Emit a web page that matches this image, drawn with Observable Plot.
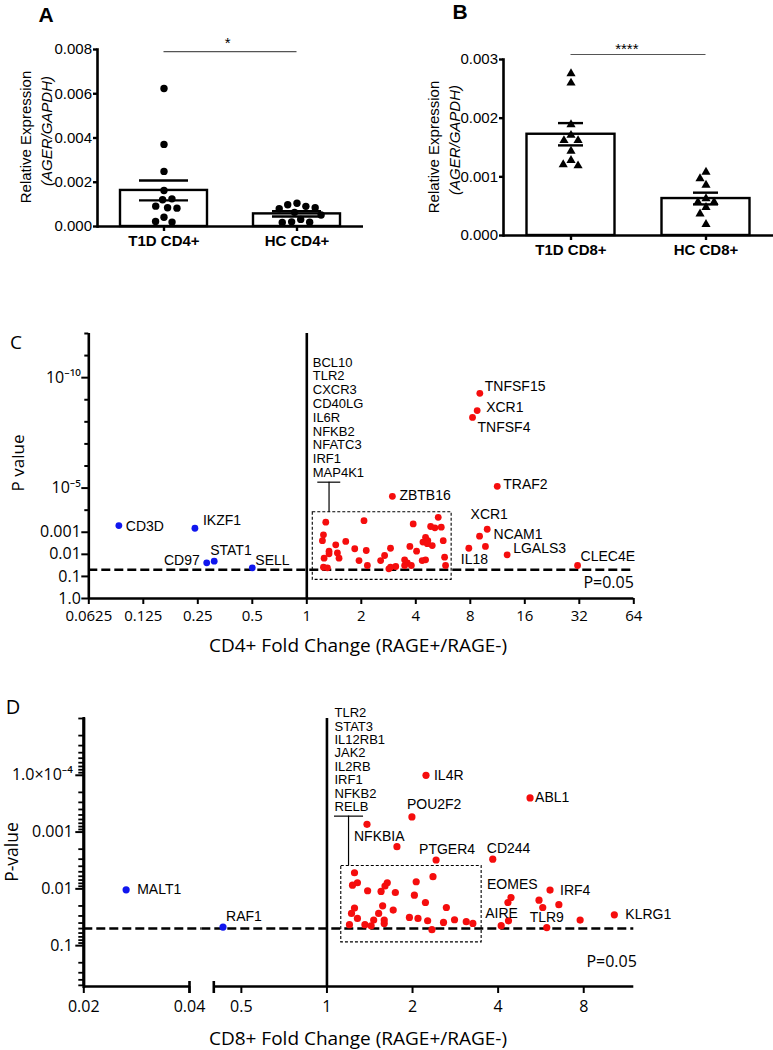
<!DOCTYPE html>
<html>
<head>
<meta charset="utf-8">
<script src="https://cdn.jsdelivr.net/npm/d3@7"></script>
<script src="https://cdn.jsdelivr.net/npm/@observablehq/plot@0.6"></script>
<style>
  html, body { margin: 0; padding: 0; background: #fff; }
  #fig { position: relative; width: 773px; height: 1050px; overflow: hidden; background: #fff; }
  #fig > svg { position: absolute; overflow: visible; max-width: none; }
  .lbl { position: absolute; white-space: nowrap; line-height: 1; color: #000; pointer-events: none; }
</style>
</head>
<body>
<div id="fig"></div>
<script>
// ================= DATA =================
// ---- Panel A : AGER/GAPDH in CD4+ ----
const groupsA = ["T1D CD4+", "HC CD4+"];
const meanA = [0.00163, 0.00057];
const semA = [0.00045, 0.00012];
const valuesT1dCD4 = [0.00624, 0.00371, 0.00249, 0.00163, 0.00121, 0.00125, 0.00092, 0.00085, 0.00083, 0.00042, 0.00023, 0.00020];
const valuesHcCD4 = [0.00105, 0.00098, 0.00091, 0.00085, 0.00080, 0.00064, 0.00052, 0.00032, 0.00021, 0.00019, 0.00018];
const yTicksA = [0, 0.002, 0.004, 0.006, 0.008];
const signifA = {text: "*", y: 0.0079};

// ---- Panel B : AGER/GAPDH in CD8+ ----
const groupsB = ["T1D CD8+", "HC CD8+"];
const meanB = [0.001726, 0.00063];
const semB = [0.00019, 0.0001];
const valuesT1dCD8 = [0.00276, 0.00260, 0.00189, 0.00171, 0.00162, 0.00162, 0.00144, 0.00128, 0.00121, 0.00119];
const valuesHcCD8 = [0.00108, 0.00097, 0.00086, 0.00063, 0.00057, 0.00057, 0.00048, 0.00037, 0.00019];
const yTicksB = [0, 0.001, 0.002, 0.003];
const signifB = {text: "****", y: 0.003085};

// ---- Panel C : CD4+ volcano ----
const xTicksC = [0.0625, 0.125, 0.25, 0.5, 1, 2, 4, 8, 16, 32, 64];
const yTicksC = [1e-10, 1e-5, 1e-3, 1e-2, 1e-1, 1];
const yTickTextC = ["10\u207B\u00B9\u2070", "10\u207B\u2075", "0.001", "0.01", "0.1", "1.0"];
const yMinorC = [1e-12, 1e-11, 1e-9, 1e-8, 1e-7, 1e-6, 1e-4];
const blueGenesC = ["CD3D", "IKZF1", "CD97", "STAT1", "SELL"];
const blueFoldC = [0.0916, 0.241, 0.28, 0.308, 0.5];
const bluePC = [4.97e-4, 6.6e-4, 0.0243, 0.0205, 0.0408];
const redGenesC = ["TNFSF15", "XCR1", "TNFSF4", "TRAF2", "ZBTB16", "XCR1", "NCAM1", "IL18", "LGALS3", "CLEC4E"];
const redFoldC = [9.03, 8.73, 8.23, 11.27, 2.97, 9.92, 9.0, 7.85, 12.78, 31.3];
const redPC = [5.1e-10, 3.1e-9, 6.3e-9, 8.3e-6, 2.35e-5, 7.3e-4, 1.5e-3, 5.3e-3, 0.0105, 0.0321];
const otherFoldC = [1.273, 1.236, 1.22, 1.445, 1.641, 2.07, 1.84, 2.13, 1.327, 1.327, 1.476, 1.507, 1.246, 1.943, 2.161, 1.236, 1.30, 2.558, 2.69, 2.84, 2.90, 3.87, 5.32, 4.83, 5.10, 5.53, 5.67, 4.53, 4.66, 4.38, 4.93, 4.63, 3.71, 4.04, 4.53, 4.34, 5.77, 3.47, 3.59, 3.47, 3.78, 3.10, 5.84, 2.90, 9.7];
const otherPC = [3.5e-4, 1.31e-3, 2.4e-3, 3.7e-3, 2.6e-3, 3.0e-4, 5.6e-3, 6.7e-3, 7.2e-3, 9.5e-3, 8.6e-3, 0.015, 0.015, 0.0191, 0.0321, 0.0384, 0.0408, 0.0191, 0.0113, 0.0453, 5.3e-3, 4.2e-4, 2.1e-4, 5.5e-4, 6.3e-4, 5.9e-4, 2.4e-3, 1.7e-3, 2.4e-3, 2.8e-3, 4.0e-3, 3.3e-3, 4.4e-3, 7.2e-3, 0.0177, 0.0191, 0.0135, 0.0177, 0.0243, 0.0321, 0.0321, 0.0356, 0.0321, 0.0384, 4.4e-3];
const boxGenesC = ["BCL10", "TLR2", "CXCR3", "CD40LG", "IL6R", "NFKB2", "NFATC3", "IRF1", "MAP4K1"];
const boxC = [{x1: 1.079, x2: 6.31, y1: 1.24e-4, y2: 0.143}];
const calloutC = [{x1: 1.15, x2: 1.54, x: 1.327, y: 5.4e-6, yBox: 1.24e-4, xText: 1.079, yText: 3.2e-6}];

// ---- Panel D : CD8+ volcano ----
const xTicksDLeft = [0.02, 0.04];
const xTicksDRight = [0.5, 1, 2, 4, 8];
const yTicksD = [1e-4, 1e-3, 1e-2, 1e-1];
const yTickTextD = ["1.0\u00D710\u207B\u2074", "0.001", "0.01", "0.1"];
const blueGenesDLeft = ["MALT1"];
const blueFoldDLeft = [0.0264];
const bluePDLeft = [0.0104];
const blueGenesD = ["RAF1"];
const blueFoldD = [0.431];
const bluePD = [0.047];
const redGenesD = ["IL4R", "ABL1", "POU2F2", "NFKBIA", "PTGER4", "CD244", "EOMES", "IRF4", "AIRE", "TLR9", "KLRG1"];
const redFoldD = [2.23, 5.18, 1.99, 1.383, 2.42, 3.83, 4.44, 6.09, 4.10, 5.93, 10.25];
const redPD = [1.0e-4, 2.5e-4, 5.4e-4, 7.3e-4, 3.1e-3, 3.0e-3, 0.0142, 0.0105, 0.0445, 0.048, 0.0286];
const otherFoldD = [1.25, 1.28, 1.23, 1.39, 1.63, 1.60, 1.55, 1.74, 2.06, 2.03, 2.36, 2.22, 2.63, 1.57, 1.71, 1.25, 1.22, 1.28, 1.20, 1.36, 1.43, 1.46, 1.52, 1.59, 1.59, 1.95, 2.09, 2.26, 2.34, 2.57, 2.81, 3.09, 3.26, 1.763, 5.57, 5.74, 6.54, 4.35, 4.33, 7.77];
const otherPD = [0.0052, 0.0078, 0.0086, 0.0108, 0.0078, 0.0089, 0.0111, 0.0116, 0.0075, 0.0129, 0.0061, 0.0174, 0.0213, 0.0199, 0.0236, 0.0218, 0.0271, 0.0332, 0.0428, 0.0428, 0.0446, 0.0354, 0.0271, 0.0354, 0.0406, 0.0319, 0.0332, 0.0364, 0.0524, 0.0390, 0.0350, 0.0379, 0.0406, 1.81e-3, 0.0158, 0.0213, 0.019, 0.0365, 0.0174, 0.0354];
const boxGenesD = ["TLR2", "STAT3", "IL12RB1", "JAK2", "IL2RB", "IRF1", "NFKB2", "RELB"];
const boxD = [{x1: 1.123, x2: 3.50, y1: 3.95e-3, y2: 0.0876}];
const calloutD = [{x1: 1.063, x2: 1.345, x: 1.191, y: 5.24e-4, yBox: 3.95e-3, xText: 1.063, yText: 4.28e-4}];

const threshold = 0.05;

// ================= RENDER =================
const ARIAL = "'Liberation Sans', Arial, Helvetica, sans-serif";
const MYRIAD = "'Open Sans', 'Noto Sans', sans-serif";
const RED = "#f50d0d";
const BLUE = "#1016ee";
const fig = document.getElementById("fig");

function mount(svg, left, top) {
  svg.style.left = left + "px";
  svg.style.top = top + "px";
  fig.appendChild(svg);
}
function label(text, x, y, {size = 15, family = ARIAL, weight = "normal", italic = false, anchor = "middle", rotate = 0} = {}) {
  const d = document.createElement("div");
  d.className = "lbl";
  d.textContent = text;
  d.style.left = x + "px";
  d.style.top = y + "px";
  d.style.fontSize = size + "px";
  d.style.fontFamily = family;
  d.style.fontWeight = weight;
  if (italic) d.style.fontStyle = "italic";
  const tx = anchor === "start" ? "0%" : anchor === "end" ? "-100%" : "-50%";
  d.style.transform = `translate(${tx}, -50%)` + (rotate ? ` rotate(${rotate}deg)` : "");
  fig.appendChild(d);
}

function barPanel({groups, means, sems, series, ticks, signif, symbol, r, width, height, mL, mR, mT, mB, barInset, capInset, starDy}) {
  const bars = groups.map((g, i) => ({group: g, mean: means[i], lo: means[i] - sems[i], hi: means[i] + sems[i]}));
  const pts = groups.flatMap((g, i) => series[i].map(v => ({group: g, value: v})));
  const half = (width - mL - mR) / groups.length / 2;
  const sig = [{from: groups[0], to: groups[1], y: signif.y, text: signif.text}];
  const line = {stroke: "#000", strokeWidth: 2.4};
  const thin = {stroke: "#555", strokeWidth: 1.2};
  return Plot.plot({
    width, height, marginLeft: mL, marginRight: mR, marginTop: mT, marginBottom: mB,
    style: {fontFamily: ARIAL, fontSize: "15px", color: "#000", background: "transparent", overflow: "visible"},
    fx: {domain: groups, padding: 0, label: null},
    y: {domain: [ticks[0], ticks[ticks.length - 1]], label: null},
    marks: [
      Plot.barY(bars, {fx: "group", y: "mean", fill: "white", ...line, insetLeft: barInset, insetRight: barInset}),
      Plot.dot(pts, Plot.dodgeX({anchor: "middle", padding: 2}, {fx: "group", y: "value", r, symbol, fill: "#000"})),
      Plot.ruleX(bars, {fx: "group", y1: "lo", y2: "hi", ...line}),
      Plot.tickY(bars, {fx: "group", y: "hi", insetLeft: capInset, insetRight: capInset, ...line}),
      Plot.tickY(bars, {fx: "group", y: "lo", insetLeft: capInset, insetRight: capInset, ...line}),
      Plot.ruleY([ticks[0]], {strokeWidth: 2.6}),
      Plot.frame({anchor: "left", facetAnchor: "left", strokeWidth: 2.6}),
      Plot.axisY({ticks, tickFormat: d3.format(".3f"), tickSize: 4, tickPadding: 1.5, strokeWidth: 2.4, fontSize: 15, fontFamily: ARIAL, label: null}),
      Plot.axisFx({anchor: "bottom", tickSize: 5, tickPadding: 4, strokeWidth: 2.4, fontSize: 15, fontWeight: "bold", fontFamily: ARIAL, label: null}),
      Plot.ruleY(sig, {fx: "from", y: "y", insetLeft: half, ...thin}),
      Plot.ruleY(sig, {fx: "to", y: "y", insetRight: half, ...thin}),
      Plot.ruleX(sig, {fx: "from", y1: "y", y2: "y", insetTop: -3, insetBottom: -3, ...thin}),
      Plot.ruleX(sig, {fx: "to", y1: "y", y2: "y", insetTop: -3, insetBottom: -3, ...thin}),
      Plot.text(sig, {fx: "from", y: "y", text: "text", frameAnchor: "right", dy: starDy, fontSize: 15, fontFamily: ARIAL})
    ]
  });
}

const toPts = (genes, folds, ps) => folds.map((f, i) => ({gene: genes ? genes[i] : "", fold: f, p: ps[i]}));
function geneLabels(genes, folds, ps, place) {
  return genes.map((g, i) => {
    const [dx, dy, anchor = "start"] = place[i];
    return Plot.text([{gene: g, fold: folds[i], p: ps[i]}], {x: "fold", y: "p", text: "gene", dx, dy, textAnchor: anchor, fontFamily: ARIAL, fontSize: 14, fill: "#000"});
  });
}
const axisLine = {stroke: "#000", strokeWidth: 2.6};
const dashed = {stroke: "#000", strokeWidth: 2.6, strokeDasharray: "9,4"};
const boxStyle = {fill: "none", stroke: "#000", strokeWidth: 1.1, strokeDasharray: "3,2"};
const calloutMarks = (c, lineHeight, genes) => [
  Plot.ruleY(c, {x1: "x1", x2: "x2", y: "y", stroke: "#000", strokeWidth: 1.2}),
  Plot.ruleX(c, {x: "x", y1: "y", y2: "yBox", stroke: "#000", strokeWidth: 1.2}),
  Plot.text(c, {x: "xText", y: "yText", text: () => genes.join("\n"), textAnchor: "start", lineAnchor: "bottom", lineHeight, fontFamily: ARIAL, fontSize: 13, fill: "#000"})
];

// ---- A ----
mount(barPanel({groups: groupsA, means: meanA, sems: semA, series: [valuesT1dCD4, valuesHcCD4], ticks: yTicksA, signif: signifA,
  symbol: "circle", r: 3.7, width: 390, height: 300, mL: 97, mR: 27, mT: 49, mB: 74, barInset: 23, capInset: 42, starDy: -9}), 0, 0);
// ---- B ----
mount(barPanel({groups: groupsB, means: meanB, sems: semB, series: [valuesT1dCD8, valuesHcCD8], ticks: yTicksB, signif: signifB,
  symbol: "triangle", r: 3.4, width: 383, height: 300, mL: 113, mR: 0, mT: 59, mB: 65, barInset: 23.5, capInset: 55, starDy: -5}), 390, 0);

// ---- C ----
const placeBlueC = [[7, 1], [8, -8], [-7, -2, "end"], [-4, -11], [3, -7]];
const placeRedC = [[5, -7], [9, -3], [5, 10], [6, -2], [7, -1], [2, -15, "middle"], [14, -2], [-8, 11], [6, -6], [3, -9]];
const plotC = Plot.plot({
  width: 773, height: 340, marginLeft: 88.3, marginRight: 139.7, marginTop: 8, marginBottom: 67,
  style: {fontFamily: MYRIAD, fontSize: "15px", color: "#000", background: "transparent", overflow: "visible"},
  x: {type: "log", base: 2, domain: [0.0625, 64], label: null, axis: null},
  y: {type: "log", domain: [1, 1e-12], label: null, axis: null},
  marks: [
    Plot.rect(boxC, {x1: "x1", x2: "x2", y1: "y1", y2: "y2", ...boxStyle}),
    Plot.ruleY([threshold], dashed),
    Plot.ruleX([1], axisLine),
    Plot.ruleX([xTicksC[0]], axisLine),
    Plot.ruleY([1], axisLine),
    Plot.axisY({ticks: yMinorC, tickSize: 4, tickFormat: () => "", strokeWidth: 2, label: null}),
    Plot.axisY({ticks: yTicksC, tickSize: 7, tickPadding: 1, tickFormat: d => yTickTextC[yTicksC.indexOf(d)], fontSize: 16, fontFamily: MYRIAD, strokeWidth: 2, label: null}),
    Plot.axisX({ticks: xTicksC, tickSize: 6, tickPadding: 6, tickFormat: d => String(d), fontSize: 15, fontFamily: MYRIAD, strokeWidth: 2, label: null}),
    Plot.dot(toPts(null, otherFoldC, otherPC), {x: "fold", y: "p", r: 3.4, fill: RED}),
    Plot.dot(toPts(redGenesC, redFoldC, redPC), {x: "fold", y: "p", r: 3.4, fill: RED}),
    Plot.dot(toPts(blueGenesC, blueFoldC, bluePC), {x: "fold", y: "p", r: 3.4, fill: BLUE}),
    ...geneLabels(blueGenesC, blueFoldC, bluePC, placeBlueC),
    ...geneLabels(redGenesC, redFoldC, redPC, placeRedC),
    ...calloutMarks(calloutC, 1.064, boxGenesC),
    Plot.text(["P=0.05"], {text: d => d, frameAnchor: "bottom-right", textAnchor: "end", dy: -11, fontSize: 16, fontFamily: MYRIAD})
  ]
});
mount(plotC, 0, 325);

// ---- D (broken x axis: two overlaid segments sharing the y scale) ----
const yDomainD = [0.524, 1e-5];
const yMinorD = [];
for (let e = -5; e <= -1; e++) for (let k = 1; k <= 9; k++) {
  const v = +(k * Math.pow(10, e)).toPrecision(3);
  if (v >= yDomainD[1] && v <= yDomainD[0] && !yTicksD.includes(v)) yMinorD.push(v);
}
const placeBlueD = [[3, -11]];
const placeRedD = [[8, 0], [5, 0], [-5, -12], [-13, 12], [-17, -10], [-6, -11], [-24, -13], [10, 0], [-16, -12], [0, -10, "middle"], [11, 0]];
const placeBlueDLeft = [[11, 0]];
const gapD = 130; // pixel shift from the right segment's start to the y axis (broken axis)

// left segment of D: 0.02–0.04 part of the broken x axis
const plotDL = Plot.plot({
  width: 773, height: 350, marginLeft: 83.3, marginRight: 584, marginTop: 18, marginBottom: 64,
  style: {fontFamily: MYRIAD, fontSize: "16px", color: "#000", background: "transparent", overflow: "visible"},
  x: {type: "log", base: 2, domain: [0.02, 0.04], label: null, axis: null},
  y: {type: "log", domain: yDomainD, label: null, axis: null},
  marks: [
    Plot.ruleY([threshold], {...dashed, insetRight: -12}),
    Plot.ruleX([xTicksDLeft[0]], {stroke: "#000", strokeWidth: 2.8}),
    Plot.ruleY([yDomainD[0]], axisLine),
    Plot.ruleX([xTicksDLeft[1]], {y1: yDomainD[0], y2: yDomainD[0], insetTop: -5, insetBottom: -7, ...axisLine}),
    Plot.axisX({ticks: xTicksDLeft, tickSize: 7, tickPadding: 7, tickFormat: d => String(d), fontSize: 16, fontFamily: MYRIAD, strokeWidth: 2, label: null}),
    Plot.dot(toPts(blueGenesDLeft, blueFoldDLeft, bluePDLeft), {x: "fold", y: "p", r: 3.6, fill: BLUE}),
    ...geneLabels(blueGenesDLeft, blueFoldDLeft, bluePDLeft, placeBlueDLeft)
  ]
});
mount(plotDL, 0, 700);

// right segment of D (also carries the shared y axis, shifted left across the break)
const plotDR = Plot.plot({
  width: 773, height: 350, marginLeft: 213.3, marginRight: 139.7, marginTop: 18, marginBottom: 64,
  style: {fontFamily: MYRIAD, fontSize: "16px", color: "#000", background: "transparent", overflow: "visible"},
  x: {type: "log", base: 2, domain: [0.4, 12], label: null, axis: null},
  y: {type: "log", domain: yDomainD, label: null, axis: null},
  marks: [
    Plot.rect(boxD, {x1: "x1", x2: "x2", y1: "y1", y2: "y2", ...boxStyle}),
    Plot.ruleY([threshold], {...dashed, insetLeft: -12}),
    Plot.ruleX([1], axisLine),
    Plot.ruleY([yDomainD[0]], axisLine),
    Plot.ruleX([0.4], {y1: yDomainD[0], y2: yDomainD[0], insetTop: -5, insetBottom: -7, ...axisLine}),
    Plot.frame({anchor: "left", insetLeft: -gapD, stroke: "#000", strokeWidth: 2.8}),
    Plot.axisY({ticks: yMinorD, tickSize: 5, dx: -gapD, tickFormat: () => "", stroke: "#000", strokeWidth: 1.8, label: null}),
    Plot.axisY({ticks: yTicksD, tickSize: 8, tickPadding: 3, dx: -gapD, tickFormat: d => yTickTextD[yTicksD.indexOf(d)], fontSize: 16, fontFamily: MYRIAD, stroke: "#000", strokeWidth: 2, label: null}),
    Plot.axisX({ticks: xTicksDRight, tickSize: 7, tickPadding: 7, tickFormat: d => String(d), fontSize: 16, fontFamily: MYRIAD, strokeWidth: 2, label: null}),
    Plot.dot(toPts(null, otherFoldD, otherPD), {x: "fold", y: "p", r: 3.6, fill: RED}),
    Plot.dot(toPts(redGenesD, redFoldD, redPD), {x: "fold", y: "p", r: 3.6, fill: RED}),
    Plot.dot(toPts(blueGenesD, blueFoldD, bluePD), {x: "fold", y: "p", r: 3.6, fill: BLUE}),
    ...geneLabels(blueGenesD, blueFoldD, bluePD, placeBlueD),
    ...geneLabels(redGenesD, redFoldD, redPD, placeRedD),
    ...calloutMarks(calloutD, 1.033, boxGenesD),
    Plot.text(["P=0.05"], {text: d => d, frameAnchor: "bottom-right", textAnchor: "end", dx: 3, dy: -20, fontSize: 16, fontFamily: MYRIAD})
  ]
});
mount(plotDR, 0, 700);

// ---- panel letters & titles ----
label("A", 46, 14, {size: 21, weight: "bold"});
label("B", 460, 11, {size: 21, weight: "bold"});
label("C", 16, 342, {size: 19, family: MYRIAD});
label("D", 13, 707, {size: 20, family: MYRIAD});
label("Relative Expression", 25, 137, {size: 15, rotate: -90});
label("(AGER/GAPDH)", 46, 131, {size: 15, italic: true, rotate: -90});
label("Relative Expression", 433, 147, {size: 15, rotate: -90});
label("(AGER/GAPDH)", 454, 140, {size: 15, italic: true, rotate: -90});
label("P value", 17, 463, {size: 17, family: MYRIAD, rotate: -90});
label("CD4+ Fold Change (RAGE+/RAGE-)", 358, 645, {size: 19, family: MYRIAD});
label("P-value", 12, 852, {size: 17.5, family: MYRIAD, rotate: -90});
label("CD8+ Fold Change (RAGE+/RAGE-)", 358, 1038, {size: 19, family: MYRIAD});
</script>
</body>
</html>
